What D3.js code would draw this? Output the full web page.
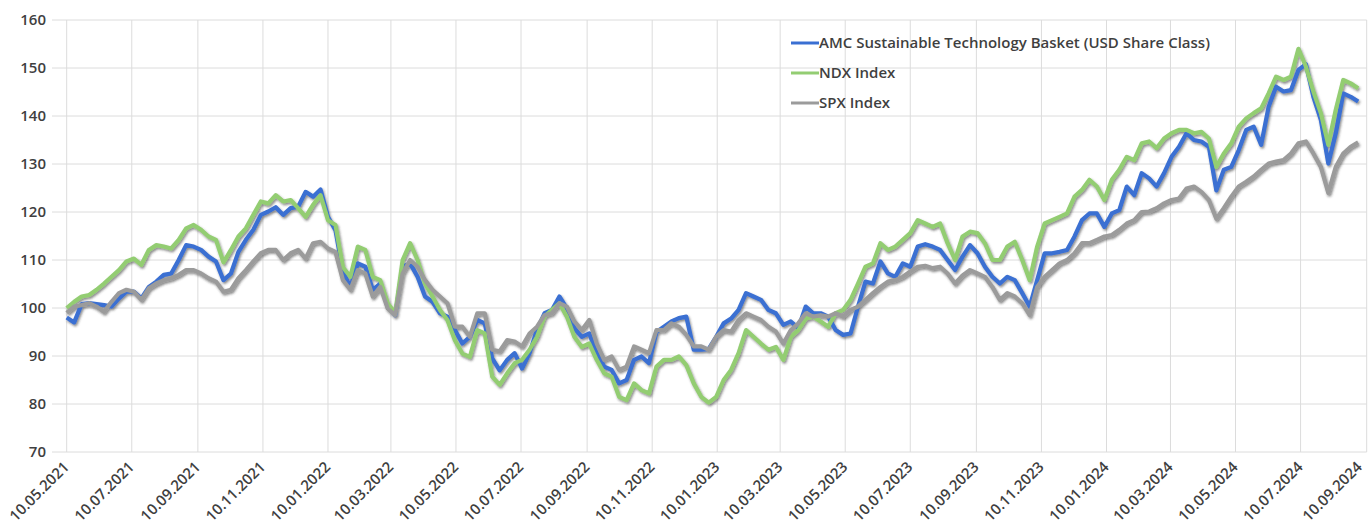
<!DOCTYPE html>
<html>
<head>
<meta charset="utf-8">
<script src="https://cdn.jsdelivr.net/npm/d3@7"></script>
<style>
  body { margin: 0; background: #fff; }
  text { font-family: "Open Sans", sans-serif; font-weight: 600; fill: #3f3f3f; }
</style>
</head>
<body>
<div id="chart"></div>
<script>
// weekly observations starting 10.05.2021
var firstDate = "10.05.2021"

var amc = [98,97,100.8,101,100.8,100.6,100.3,102,103.4,103.4,102,104.4,105.5,106.9,107.2,110,113.1,112.8,112.1,110.7,
    109.7,105.8,107.2,111.7,114.2,116.3,119.4,120.1,121,119.4,120.8,121.1,124.2,123.2,124.7,119,116.2,107.5,104.4,109.3,
    108.6,103.8,105.1,100.3,98.5,108.6,109.3,106.5,102.4,101.3,98.9,98.2,95.4,92.6,94,97.5,96.8,89.5,87,89.2,
    90.6,87.4,90.6,95.5,98.9,99.6,102.4,99.9,95.8,94,94.7,90.6,87.8,87.1,84.3,85,89.2,89.9,88.5,95,
    96.1,97.2,97.9,98.2,91.3,91.3,91.5,94,96.8,97.8,99.6,103.1,102.4,101.7,99.6,98.9,96.5,97.2,95.8,100.3,
    98.9,98.9,98.2,95.4,94.4,94.7,100.3,105.5,105.1,109.7,107.2,106.5,109.3,108.6,112.8,113.3,112.8,112.1,110,107.9,
    110.7,113.1,111.4,108.6,106.5,105.1,106.5,105.8,103.1,100.3,105.8,111.4,111.4,111.7,112.1,114.9,118.3,119.7,119.7,116.9,
    119.7,120.4,125.3,123.5,128.1,127,125.3,128.1,131.5,133.6,136.4,135,134.7,133.6,124.5,128.8,129.4,132.9,137.1,137.8,
    134,141.9,146.1,145.1,145.4,149.6,150.8,144,139.2,130.1,136.4,144.7,144,143]

var ndx = [100,101.3,102.4,102.7,103.8,105.1,106.5,107.9,109.7,110.3,109,112.1,113.1,112.8,112.4,114.2,116.6,117.3,116.3,114.9,
    114.2,109.5,112.1,114.9,116.6,119.4,122.2,121.8,123.5,122.2,122.5,120.8,119,121.5,123.5,118.3,117.3,108.5,106.5,112.8,
    112.1,106.5,105.8,101,98.9,110,113.5,110,105.1,102.4,99.6,97.5,93.3,90.5,89.8,95.4,94.7,85.7,84,86.4,
    88.5,89.2,91.3,94,98.2,99.6,101,98.2,94,91.9,92.6,89.2,86.4,85.7,81.5,80.8,84.3,82.9,82.2,87.8,
    89.2,89.2,89.9,88.1,84.3,81.5,80.3,81.5,85,87.1,90.6,95.4,94,92.6,91.3,91.9,89.2,94,95.4,97.8,
    98.2,97.2,96.1,98.9,99.6,101.7,105.1,108.6,109.3,113.5,112.1,112.8,114.2,115.6,118.3,117.6,116.9,117.6,113.5,110,
    114.9,115.9,115.6,113.5,110,110,112.8,113.8,110,105.8,112.8,117.6,118.3,119,119.7,123.2,124.6,126.7,125.3,122.5,
    126.7,128.8,131.5,130.8,134.3,134.7,133.3,135.3,136.4,137.1,137.1,136.4,136.7,135.3,129.4,132.2,134.3,137.8,139.5,140.6,
    141.6,144.7,148.2,147.5,148.2,154,150.3,145.1,140.6,134,141.3,147.5,146.8,145.8]

var spx = [99,100.3,100.6,101,100.3,99.2,101.3,103.1,103.8,103.4,101.7,104.1,105.1,105.8,106.2,106.9,107.9,107.9,107.2,106.2,
    105.5,103.4,103.8,106.2,107.9,109.7,111.4,112.1,112.1,110,111.4,112.1,110.3,113.5,113.8,112.4,111.7,105.8,103.8,107.9,
    107.2,102.4,104.4,99.9,98.5,107.2,110,108.6,105.8,103.8,102.4,101,96.1,96.1,94,98.9,98.9,91.3,91,93.3,
    93,92,94.7,96.1,98.5,98.9,101,100.3,97.2,95.4,97.5,92.6,89.2,89.9,87.1,87.8,92,91.3,90.6,95.4,
    95.4,96.8,96.1,94.4,92,92,91.3,94,95.4,95.1,97.5,98.9,98.2,97.5,96.1,95.1,92.6,95.4,96.8,98.9,
    98.2,98.5,98.2,98.9,98.2,99.6,100.3,101.7,103.1,104.4,105.5,105.8,106.5,107.6,108.6,108.8,108.3,108.6,107.2,105.1,
    106.8,107.9,107.2,106.5,104.4,101.7,103.1,102.4,101,98.5,104.4,106.5,107.9,109.3,110,111.4,113.5,113.5,114.2,114.9,
    115.2,116.3,117.6,118.3,120,120.1,120.8,121.8,122.5,122.8,124.9,125.3,124.2,122.5,118.6,120.8,123.2,125.3,126.3,127.4,
    128.8,130.1,130.5,130.8,132.2,134.3,134.7,132.2,129.4,124,129.4,132.2,133.6,134.5]

var tickLabels = ["10.05.2021","10.07.2021","10.09.2021","10.11.2021","10.01.2022","10.03.2022","10.05.2022",
    "10.07.2022","10.09.2022","10.11.2022","10.01.2023","10.03.2023","10.05.2023","10.07.2023","10.09.2023",
    "10.11.2023","10.01.2024","10.03.2024","10.05.2024","10.07.2024","10.09.2024"]

var yTicks = [70, 80, 90, 100, 110, 120, 130, 140, 150, 160]

var seriesNames = ["AMC Sustainable Technology Basket (USD Share Class)", "NDX Index", "SPX Index"]
var seriesColors = ["#3a6fd2", "#93cd72", "#9b9b9b"]

var width = 1369, height = 528
var parse = d3.timeParse("%d.%m.%Y")
var start = parse(firstDate)

var x = d3.scaleTime()
    .domain([parse(tickLabels[0]), parse(tickLabels[tickLabels.length - 1])])
    .range([66.7, 1366.7])

var y = d3.scaleLinear()
    .domain([70, 160])
    .range([452, 20])

var svg = d3.select("#chart")
    .append("svg")
        .attr("width", width)
        .attr("height", height)

var defs = svg.append("defs")
var shadow = defs.append("filter")
    .attr("id", "shadow")
    .attr("x", "-5%").attr("y", "-5%")
    .attr("width", "110%").attr("height", "110%")
shadow.append("feDropShadow")
    .attr("dx", 1.2)
    .attr("dy", 1.8)
    .attr("stdDeviation", 1.1)
    .attr("flood-color", "#333")
    .attr("flood-opacity", 0.55)

// grid
var grid = svg.append("g").attr("class", "grid")
grid.selectAll("line.h")
    .data(yTicks)
    .enter().append("line")
        .attr("x1", 52)
        .attr("x2", x.range()[1])
        .attr("y1", function(d) { return y(d) })
        .attr("y2", function(d) { return y(d) })
        .attr("stroke", "#dcdcdc")
        .attr("stroke-width", 1)

grid.selectAll("line.v")
    .data(tickLabels)
    .enter().append("line")
        .attr("x1", function(d) { return x(parse(d)) })
        .attr("x2", function(d) { return x(parse(d)) })
        .attr("y1", y(160))
        .attr("y2", y(70))
        .attr("stroke", "#dcdcdc")
        .attr("stroke-width", 1)

// y axis labels
var yAxis = svg.append("g")
    .attr("transform", "translate(46,0)")
    .call(d3.axisLeft(y).tickValues(yTicks).tickSize(0).tickPadding(0))
yAxis.select(".domain").remove()
yAxis.selectAll("text")
    .style("font-size", "15px")
    .attr("fill", "#3f3f3f")

// x axis labels
var xAxis = svg.append("g")
    .attr("transform", "translate(0," + y(70) + ")")
    .call(d3.axisBottom(x).tickValues(tickLabels.map(parse)).tickSize(0).tickFormat(d3.timeFormat("%d.%m.%Y")))
xAxis.select(".domain").remove()
var nTicks = tickLabels.length
xAxis.selectAll("text")
    .style("font-size", "15px")
    .attr("fill", "#3f3f3f")
    .attr("text-anchor", "end")
    .attr("dy", "0.35em")
    .attr("transform", function(d, i) {
        // keep the last label inside the window
        var dx = i == nTicks - 1 ? -10 : -3
        return "translate(" + dx + ",10) rotate(-45)"
    })

// lines
var line = d3.line()
    .x(function(d, i) { return x(d3.timeDay.offset(start, 7 * i)) })
    .y(function(d) { return y(d) })

var lines = svg.append("g").attr("filter", "url(#shadow)")
;[amc, ndx, spx].forEach(function(values, k) {
    lines.append("path")
        .datum(values)
        .attr("d", line)
        .attr("fill", "none")
        .attr("stroke", seriesColors[k])
        .attr("stroke-width", 4.2)
        .attr("stroke-linejoin", "round")
})

// legend
var legend = svg.append("g").attr("transform", "translate(791,43)")
seriesNames.forEach(function(name, k) {
    var row = legend.append("g").attr("transform", "translate(0," + (k * 30) + ")")
    row.append("line")
        .attr("x1", 0).attr("x2", 28)
        .attr("y1", 0).attr("y2", 0)
        .attr("stroke", seriesColors[k])
        .attr("stroke-width", 3)
    row.append("text")
        .attr("x", 28)
        .attr("dy", "0.35em")
        .style("font-size", "15px")
        .text(name)
})
</script>
</body>
</html>
